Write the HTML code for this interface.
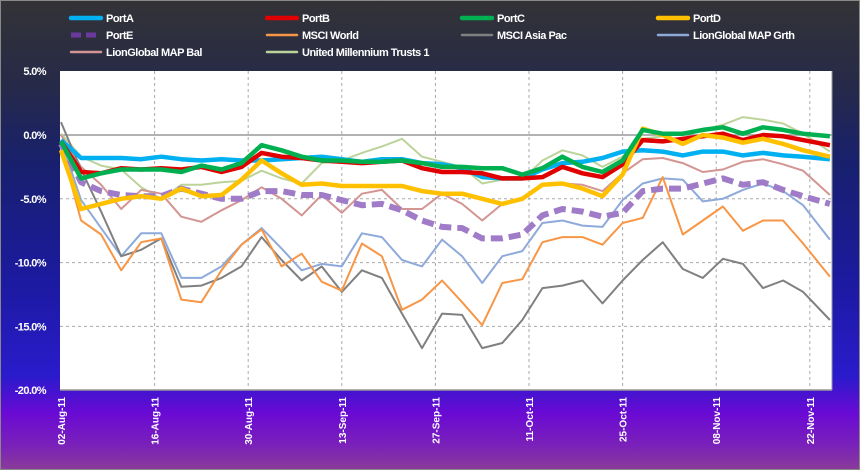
<!DOCTYPE html>
<html><head><meta charset="utf-8"><style>
html,body{margin:0;padding:0;}
body{width:860px;height:470px;overflow:hidden;background:linear-gradient(to bottom,#333336 0%,#262a48 18%,#18206e 35%,#1c1aa0 60%,#2a1bcc 80%,#6a0ad4 88%,#7a22b8 95%,#8a3c98 100%);font-family:"Liberation Sans",sans-serif;}
svg{display:block;}
</style></head><body>
<svg width="860" height="470">
<rect x="0.5" y="0.5" width="859" height="469" fill="none" stroke="#888"/>
<rect x="60" y="71" width="772" height="319" fill="#fff"/>
<g id="grid"></g>
<g id="series"></g>
<line x1="60" y1="390" x2="832" y2="390" stroke="#999" stroke-width="1.5"/>
<line x1="832" y1="71" x2="832" y2="390" stroke="#999"/>
<g id="yticks"></g>
<g id="xticks"></g>
<g id="legend"></g>
</svg>
<script>
const days=[0,3,6,9,12,15,18,21,24,27,30,33,36,39,42,45,48,51,54,57,60,63,66,69,72,75,78,81,84,87,90,93,96,99,102,105,108,111,115];
const portA=[-0.4,-1.8,-1.8,-1.8,-1.9,-1.7,-1.9,-2.0,-1.9,-2.0,-2.0,-1.9,-1.8,-1.7,-1.9,-2.1,-1.9,-1.9,-2.2,-2.3,-2.6,-3.3,-3.4,-3.4,-2.7,-2.2,-2.1,-1.8,-1.3,-1.2,-1.3,-1.6,-1.3,-1.3,-1.6,-1.4,-1.6,-1.7,-1.9];
const portB=[-0.5,-2.9,-3.0,-2.6,-2.7,-2.6,-2.7,-2.5,-2.9,-2.5,-1.4,-1.7,-1.8,-2.0,-2.1,-2.2,-2.1,-2.0,-2.6,-2.9,-2.9,-3.0,-3.4,-3.4,-3.3,-2.5,-3.0,-3.3,-2.3,-0.4,-0.5,-0.3,-0.1,0.1,-0.4,0.0,-0.1,-0.4,-0.8];
const portC=[-0.5,-3.4,-3.0,-2.7,-2.7,-2.7,-2.9,-2.4,-2.7,-2.2,-0.8,-1.2,-1.7,-2.0,-2.0,-2.1,-2.1,-2.0,-2.2,-2.5,-2.5,-2.6,-2.6,-3.1,-2.6,-1.7,-2.5,-2.9,-2.0,0.4,0.1,0.1,0.4,0.6,0.1,0.6,0.4,0.1,-0.1];
const portD=[-1.2,-5.8,-5.4,-5.0,-4.8,-5.0,-4.2,-4.8,-4.7,-3.5,-2.0,-3.0,-3.9,-3.8,-4.0,-4.0,-4.0,-4.0,-4.4,-4.6,-4.6,-5.0,-5.4,-5.0,-3.9,-3.8,-4.2,-4.8,-3.1,0.5,0.0,-0.7,0.0,-0.2,-0.6,-0.3,-0.7,-1.2,-1.7];
const portE=[-0.7,-3.7,-4.4,-4.7,-4.8,-4.8,-4.2,-4.6,-5.0,-5.0,-4.4,-4.4,-4.7,-4.7,-5.1,-5.5,-5.4,-5.9,-6.7,-7.2,-7.3,-8.1,-8.1,-7.8,-6.3,-5.8,-6.0,-6.4,-6.1,-4.4,-4.2,-4.2,-3.8,-3.4,-3.9,-3.7,-4.3,-4.8,-5.4];
const msciWorld=[-0.9,-6.7,-7.8,-10.6,-8.4,-8.1,-12.9,-13.1,-10.6,-8.6,-7.4,-10.3,-9.3,-11.5,-12.2,-8.5,-9.5,-13.7,-12.9,-11.4,-13.1,-14.9,-11.6,-11.3,-8.4,-8.0,-8.0,-8.6,-6.9,-6.5,-3.3,-7.8,-6.7,-5.6,-7.5,-6.7,-6.7,-8.5,-11.1];
const msciAsia=[1.0,-2.7,-6.0,-9.5,-9.0,-8.1,-11.9,-11.8,-11.2,-10.3,-8.0,-9.8,-11.4,-10.3,-12.3,-10.6,-11.2,-14.0,-16.7,-14.0,-14.1,-16.7,-16.3,-14.5,-12.0,-11.8,-11.4,-13.2,-11.4,-9.8,-8.4,-10.5,-11.2,-9.7,-10.1,-12.0,-11.4,-12.3,-14.5];
const mapGrth=[-0.4,-5.1,-7.3,-9.5,-7.7,-7.7,-11.2,-11.2,-10.3,-8.6,-7.3,-8.9,-10.6,-10.1,-10.3,-7.7,-8.0,-9.8,-10.3,-8.2,-9.5,-11.6,-9.5,-9.1,-6.9,-6.7,-7.1,-7.2,-5.1,-3.8,-3.4,-3.5,-5.2,-5.0,-4.3,-3.8,-4.4,-5.5,-8.2];
const mapBal=[0.0,-2.5,-3.9,-5.8,-4.3,-4.6,-6.4,-6.8,-5.9,-5.1,-4.1,-5.0,-6.3,-4.7,-6.1,-4.6,-4.3,-5.8,-5.8,-4.6,-5.4,-6.7,-5.4,-5.1,-3.8,-3.8,-3.9,-4.4,-3.0,-1.9,-1.8,-2.2,-2.9,-2.7,-2.1,-1.9,-2.3,-2.8,-4.7];
const umt=[0.1,-1.7,-2.4,-2.7,-4.1,-5.0,-3.9,-3.9,-3.7,-3.6,-2.8,-3.4,-3.8,-2.2,-2.0,-1.4,-0.9,-0.3,-1.7,-2.1,-2.5,-3.8,-3.5,-3.5,-2.0,-1.2,-1.6,-2.5,-1.7,-0.3,-0.1,0.1,0.4,0.8,1.4,1.2,0.9,0.1,-1.3];
const yTicks=[5,0,-5,-10,-15,-20];
const yTickLabels=["5.0%","0.0%","-5.0%","-10.0%","-15.0%","-20.0%"];
const xTickDays=[0,14,28,42,56,70,84,98,112];
const xTickLabels=["02-Aug-11","16-Aug-11","30-Aug-11","13-Sep-11","27-Sep-11","11-Oct-11","25-Oct-11","08-Nov-11","22-Nov-11"];
const seriesNames=["PortA","PortB","PortC","PortD","PortE","MSCI World","MSCI Asia Pac","LionGlobal MAP Grth","LionGlobal MAP Bal","United Millennium Trusts 1"];

const NS="http://www.w3.org/2000/svg";
function xS(d){return 61+d*(93.6/14);}
function yS(v){return 135-v*12.76;}
function mk(t,a,p){const e=document.createElementNS(NS,t);for(const k in a)e.setAttribute(k,a[k]);p.appendChild(e);return e;}

const grid=document.getElementById('grid');
yTicks.forEach((v,i)=>{
  if(v===5||v===-20)return;
  const l=mk('line',{x1:60,x2:832,y1:yS(v),y2:yS(v),stroke:v===0?'#999':'#aaa','stroke-width':v===0?1.5:1,'stroke-dasharray':v===0?'none':'3,3'},grid);
  
  
});
xTickDays.forEach(d=>{
  if(d===0)return;
  const l=mk('line',{x1:xS(d),x2:xS(d),y1:71,y2:390,stroke:'#aaa','stroke-dasharray':'3,3'},grid);
  
  
});

const yt=document.getElementById('yticks');
yTicks.forEach((v,i)=>{
  const t=mk('text',{x:46,y:yS(v)+4,'text-anchor':'end',fill:'#fff','font-size':'11','font-weight':'bold','letter-spacing':'-0.6'},yt);
  t.textContent=yTickLabels[i];
  
  
});
const xt=document.getElementById('xticks');
xTickDays.forEach((d,i)=>{
  const x=xS(d)+4;
  const t=mk('text',{x:x,y:397,transform:`rotate(-90 ${x} 397)`,'text-anchor':'end',fill:'#fff','font-size':'10','font-weight':'bold'},xt);
  t.textContent=xTickLabels[i];
  
  
});

const styles={
 "PortA":{c:'#00b0f0',w:4.5,data:portA},
 "PortB":{c:'#e00000',w:4.5,data:portB},
 "PortC":{c:'#00b050',w:4.5,data:portC},
 "PortD":{c:'#ffc000',w:4.5,data:portD},
 "PortE":{c:'#a07cc8',w:6,dash:'12,6',lc:'#6a3aa0',data:portE},
 "MSCI World":{c:'#f79646',w:2,data:msciWorld},
 "MSCI Asia Pac":{c:'#808080',w:2,data:msciAsia},
 "LionGlobal MAP Grth":{c:'#8eaadb',w:2,data:mapGrth},
 "LionGlobal MAP Bal":{c:'#d39592',w:2,data:mapBal},
 "United Millennium Trusts 1":{c:'#bcd39a',w:2,data:umt}
};
const order=["United Millennium Trusts 1","LionGlobal MAP Bal","LionGlobal MAP Grth","MSCI Asia Pac","MSCI World","PortE","PortA","PortB","PortD","PortC"];
const sg=document.getElementById('series');
order.forEach(n=>{
  const s=styles[n];
  const pts=s.data.map((v,i)=>xS(days[i]).toFixed(1)+','+yS(v).toFixed(1)).join(' ');
  const p=mk('polyline',{points:pts,fill:'none',stroke:s.c,'stroke-width':s.w,'stroke-linejoin':'round'},sg);
  if(s.dash)p.setAttribute('stroke-dasharray',s.dash);
  
  
});

const lg=document.getElementById('legend');
const colX=[71,267,462,658];
const rowY=[18,35,52];
seriesNames.forEach((n,i)=>{
  const s=styles[n];
  const cx=colX[i%4], cy=rowY[Math.floor(i/4)];
  const g=mk('g',{},lg);
  
  
  const l=mk('line',{x1:cx,x2:cx+30,y1:cy,y2:cy,stroke:s.lc||s.c,'stroke-width':s.w>3?(s.dash?5:4.5):2.5,'stroke-linecap':s.dash?'butt':'round'},g);
  if(s.dash)l.setAttribute('stroke-dasharray','10,5');
  const t=mk('text',{x:cx+35,y:cy+4,fill:'#fff','font-size':'11','font-weight':'bold','letter-spacing':'-0.5'},g);
  t.textContent=n;
});
</script>
</body></html>
